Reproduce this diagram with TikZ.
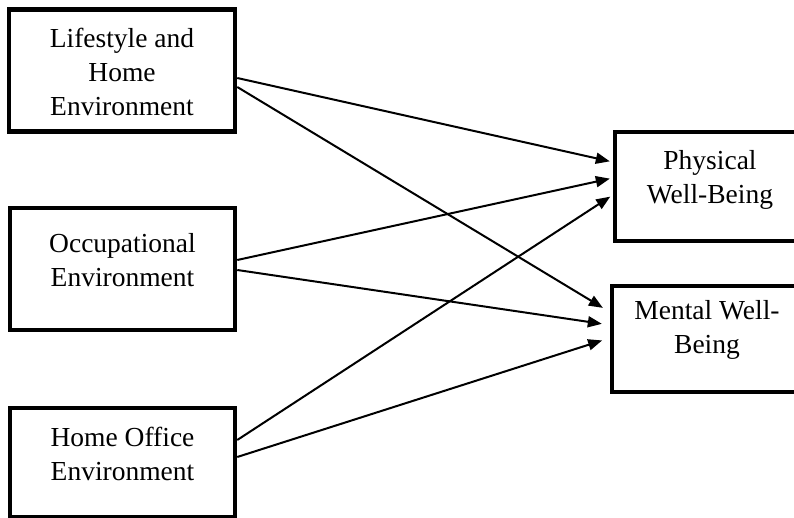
\documentclass[tikz,border=0pt]{standalone}
\usepackage{fontspec}
\setmainfont{Liberation Serif}
\usetikzlibrary{arrows.meta}

\begin{document}
\begin{tikzpicture}[x=1pt, y=-1pt,
    box/.style={draw, line width=4.5pt, inner sep=0pt},
    boxtext/.style={align=center, inner sep=0pt, font=\fontsize{27.5pt}{34pt}\selectfont},
    arrow/.style={-{Triangle[length=14pt, width=11pt]}, line width=2pt, shorten >=3pt}]

    \useasboundingbox (0, 0) rectangle (794, 518);
    \clip (0, 0) rectangle (794, 518);

    % Nodes
    % left: life, occ, office
    % right: phys, ment (cut off at the right edge)

    \node[box, minimum width=226pt, minimum height=122pt] at (122, 70.5)  (life)   {};
    \node[box, minimum width=225pt, minimum height=122pt] at (122.5, 269) (occ)    {};
    \node[box, minimum width=225pt, minimum height=109pt] at (122.5, 462.5) (office) {};
    \node[box, minimum width=190pt, minimum height=109pt] at (710, 186.5) (phys)   {};
    \node[box, minimum width=190pt, minimum height=106pt] at (707, 339)   (ment)   {};

    \node[boxtext] at ([yshift=-1pt]life.center)  (life-text)   {Lifestyle and\\Home\\Environment};
    \node[boxtext] at ([yshift=9pt]occ.center)    (occ-text)    {Occupational\\Environment};
    \node[boxtext] at ([yshift=9pt]office.center) (office-text) {Home Office\\Environment};
    \node[boxtext] at ([yshift=7pt]phys.center)   (phys-text)   {Physical\\Well-Being};
    \node[boxtext] at ([yshift=9pt]ment.center)   (ment-text)   {Mental Well-\\Being};

    \draw[arrow]  ([yshift=-7.5pt]life.east)   -- ([yshift=24.5pt]phys.west);
    \draw[arrow]  ([yshift=9pt]occ.east)       -- ([yshift=8.5pt]phys.west);
    \draw[arrow]  ([yshift=22.5pt]office.east) -- ([yshift=-8.5pt]phys.west);
    \draw[arrow, shorten >=8pt]  ([yshift=-16.5pt]life.east) -- ([yshift=27pt]ment.west);
    \draw[arrow, shorten >=8pt]  ([yshift=-1pt]occ.east)     -- ([yshift=14pt]ment.west);
    \draw[arrow, shorten >=8pt]  ([yshift=5.5pt]office.east) -- ([yshift=1pt]ment.west);

  \end{tikzpicture}
\end{document}
